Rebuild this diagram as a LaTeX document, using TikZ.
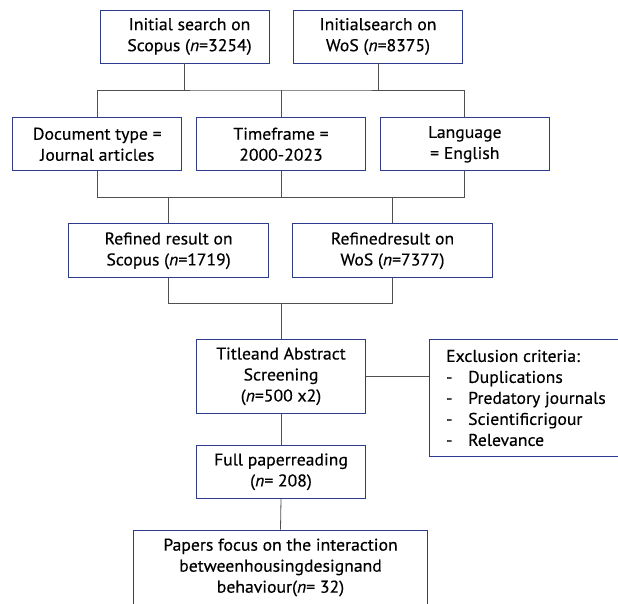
\documentclass[tikz,border=0pt]{standalone}
\usepackage{fontspec}
\setmainfont[FakeStretch=1.04,FakeBold=0.4]{PT Sans}
\definecolor{boxblue}{RGB}{46,58,140}
\definecolor{linegray}{RGB}{80,80,80}
\begin{document}
\begin{tikzpicture}[x=1pt,y=1pt,
box/.style={draw=boxblue, line width=0.9pt, fill=white, align=center, inner sep=2pt,
 font=\fontsize{17}{21}\selectfont},
link/.style={draw=linegray, line width=0.8pt}]
\useasboundingbox (0,0) rectangle (618,603);
% searches
\node[box, minimum width=169, minimum height=53] (scopusA) at (184.5,566.5) {\hspace*{10pt}Initial search on\\\hspace*{10pt}Scopus (\textit{n}=3254)};
\node[box, minimum width=169, minimum height=53] (wosA) at (378,566.5) {Initialsearch on\\WoS (\textit{n}=8375)};
% filters
\node[box, minimum width=169, minimum height=53] (doctype) at (97.3,458.7) {Document type =\\Journal articles};
\node[box, minimum width=169, minimum height=53] (timeframe) at (281,458.7) {Timeframe =\\2000-2023};
\node[box, minimum width=169, minimum height=53] (language) at (464.8,458.7) {Language\\= English};
% refined
\node[box, minimum width=200, minimum height=54] (scopusB) at (168.6,352.2) {Refined result on\\Scopus (\textit{n}=1719)};
\node[box, minimum width=200, minimum height=54] (wosB) at (392.5,352.2) {Refinedresult on\\WoS (\textit{n}=7377)};
% screening
\node[box, minimum width=169, minimum height=74] (screening) at (281,226.7) {Titleand Abstract\\Screening\\(\textit{n}=500 x2)};
\node[box, minimum width=193, minimum height=117, anchor=north west, align=left, inner xsep=11pt] (exclusion) at (429,264)
{Exclusion criteria:\\\makebox[22pt][l]{-}Duplications\\\makebox[22pt][l]{-}Predatory journals\\\makebox[22pt][l]{-}Scientificrigour\\\makebox[22pt][l]{-}Relevance};
\node[box, minimum width=169, minimum height=53] (fullread) at (281,131.2) {Full paperreading\\(\textit{n}= 208)};
\node[box, minimum width=294, minimum height=75] (final) at (280.5,35.5) {Papers focus on the interaction\\betweenhousingdesignand\\behaviour(\textit{n}= 32)};
% junctions
\coordinate (barA) at (281,513);
\coordinate (barB) at (281,405.3);
\coordinate (barC) at (281,299.3);
\draw[link] (scopusA.south) -- (scopusA.south |- barA);
\draw[link] (wosA.south) -- (wosA.south |- barA);
\draw[link] (doctype.north) |- (barA) -| (language.north);
\draw[link] (barA) -- (timeframe.north);
\draw[link] (doctype.south) |- (barB) -| (language.south);
\draw[link] (timeframe.south) -- (barB);
\draw[link] (scopusB.north) -- (scopusB.north |- barB);
\draw[link] (wosB.north) -- (wosB.north |- barB);
\draw[link] (scopusB.south) |- (barC) -| (wosB.south);
\draw[link] (barC) -- (screening.north);
\draw[link] (screening.east) -- (screening.east -| exclusion.west);
\draw[link] (screening.south) -- (fullread.north);
\draw[link] (fullread.south) -- (final.north);
\end{tikzpicture}
\end{document}
